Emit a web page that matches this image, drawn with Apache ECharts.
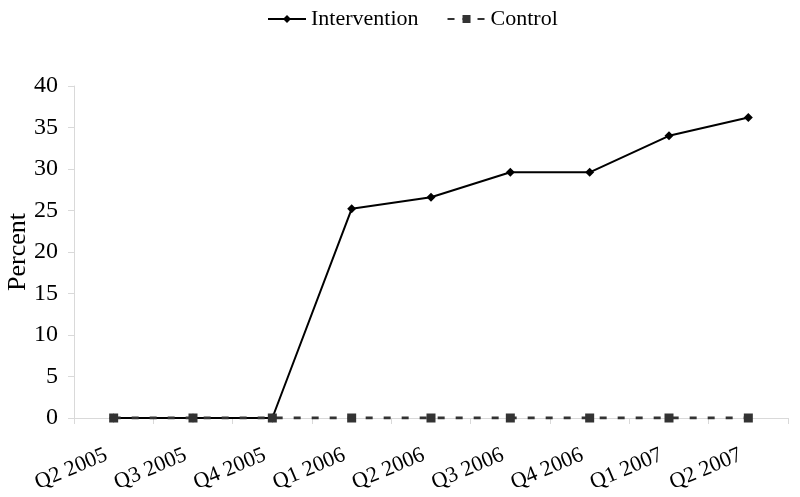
<!DOCTYPE html>
<html><head><meta charset="utf-8">
<script src="https://cdn.jsdelivr.net/npm/echarts@6/dist/echarts.min.js"></script>
<style>html,body{margin:0;padding:0;background:#fff}#c{width:800px;height:497px}</style>
</head><body><div id="c"></div>
<script>
var categories = ['Q2 2005','Q3 2005','Q4 2005','Q1 2006','Q2 2006','Q3 2006','Q4 2006','Q1 2007','Q2 2007'];
var intervention = [0, 0, 0, 25.2, 26.6, 29.6, 29.6, 34.0, 36.2];
var control = [0, 0, 0, 0, 0, 0, 0, 0, 0];
var yTicks = {min: 0, max: 40, interval: 5};

var font = 'Liberation Serif';
var chart = echarts.init(document.getElementById('c'), null, {renderer: 'canvas'});
chart.setOption({
  animation: false,
  backgroundColor: '#fff',
  textStyle: {fontFamily: font, color: '#000'},
  legend: {
    top: 3, left: 262, itemGap: 28, itemWidth: 38, itemHeight: 10,
    textStyle: {fontFamily: font, fontSize: 22, color: '#000'},
    data: [
      {name: 'Intervention'},
      {name: 'Control', lineStyle: {type: [7, 8], dashOffset: 0}}
    ]
  },
  grid: {left: 74, right: 12, top: 86, bottom: 79, containLabel: false, outerBoundsMode: 'none'},
  xAxis: {
    type: 'category', data: categories, boundaryGap: true,
    axisLine: {lineStyle: {color: '#d9d9d9', width: 1}},
    axisTick: {show: true, length: 6, lineStyle: {color: '#d9d9d9'}},
    axisLabel: {rotate: 23, fontFamily: font, fontSize: 22, color: '#000', margin: 33, padding: [0, 8, 0, 0], interval: 0}
  },
  yAxis: {
    type: 'value', min: yTicks.min, max: yTicks.max, interval: yTicks.interval,
    name: 'Percent', nameLocation: 'middle', nameGap: 43, nameRotate: 90, nameMoveOverlap: false,
    nameTextStyle: {fontFamily: font, fontSize: 26, color: '#000'},
    axisLine: {show: true, lineStyle: {color: '#d9d9d9', width: 1}},
    axisTick: {show: true, length: 6, lineStyle: {color: '#d9d9d9'}},
    splitLine: {show: false},
    axisLabel: {fontFamily: font, fontSize: 24, color: '#000', margin: 16}
  },
  series: [
    {
      name: 'Intervention', type: 'line', data: intervention,
      symbol: 'diamond', symbolSize: 9, z: 2,
      lineStyle: {color: '#000', width: 2},
      itemStyle: {color: '#000'}
    },
    {
      name: 'Control', type: 'line', data: control,
      symbol: 'rect', symbolSize: 9, z: 3,
      lineStyle: {color: '#333', width: 3, type: [7, 11]},
      itemStyle: {color: '#333'}
    }
  ]
});
</script></body></html>
